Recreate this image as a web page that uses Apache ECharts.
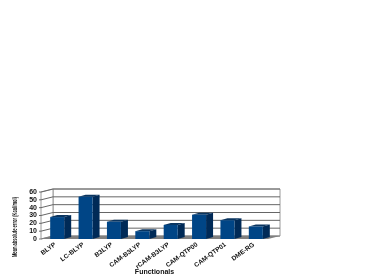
<!DOCTYPE html>
<html><head><meta charset="utf-8">
<style>html,body{margin:0;padding:0;background:#fff}#c{width:388px;height:277px}</style>
<script src="https://cdn.jsdelivr.net/npm/echarts@6/dist/echarts.min.js"></script>
</head><body><div id="c"></div>
<script>
const categories = ['BLYP','LC-BLYP','B3LYP','CAM-B3LYP','rCAM-B3LYP','CAM-QTP00','CAM-QTP01','DME-RG'];
const errors = [28,54,22,10,18,31,24,16];
const ticks = [0,10,20,30,40,50,60];
const yTitle = 'Mean absolute error (Kcal/mol)';
const DX = 12, DY = -3, BW = 14, SHIFT = 2;
const chart = echarts.init(document.getElementById('c'), null, {renderer:'canvas'});
const poly = (pts, fill, stroke) => ({type:'polygon', shape:{points:pts}, style:{fill, stroke:stroke||null, lineWidth:stroke?1:0}});
chart.setOption({
  animation:false,
  grid:{left:41,top:192,width:227,height:47,containLabel:false,outerBoundsMode:'none'},
  graphic:[{type:'text',x:15,y:227,rotation:Math.PI/2,scaleX:0.63,
    style:{text:yTitle,align:'center',verticalAlign:'middle',fontFamily:'Liberation Sans',fontWeight:'bold',fontSize:6.5,fill:'#111'}}],
  xAxis:{type:'category',data:categories,
    axisLine:{show:false},axisTick:{show:false},
    axisLabel:{interval:0,rotate:36,fontFamily:'Liberation Sans',fontWeight:'bold',fontSize:6.5,color:'#111',margin:5},
    name:'Functionals',nameLocation:'middle',nameGap:30,nameMoveOverlap:false,
    nameTextStyle:{fontFamily:'Liberation Sans',fontWeight:'bold',fontSize:7,color:'#111'}},
  yAxis:{type:'value',min:0,max:60,interval:10,
    axisLine:{show:false},axisTick:{show:false},splitLine:{show:false},
    axisLabel:{fontFamily:'Liberation Sans',fontWeight:'bold',fontSize:7,color:'#111',margin:4}},
  series:[
    {type:'custom',silent:true,z:1,clip:false,data:[0],
     renderItem(params,api){
       const w=api.size([1,0])[0]*categories.length;
       const l=api.coord([0,0])[0]-(api.size([1,0])[0]/2);
       const r=l+w;
       const y0=api.coord([0,0])[1], yT=api.coord([0,60])[1];
       const kids=[
         poly([[l+DX,yT+DY],[r+DX,yT+DY],[r+DX,y0+DY],[l+DX,y0+DY]],'#fff','#9a9a9a'),
         poly([[l,yT],[l+DX,yT+DY],[l+DX,y0+DY],[l,y0]],'#fff','#9a9a9a'),
         poly([[l,y0],[l+DX,y0+DY],[r+DX,y0+DY],[r,y0]],'#808080')
       ];
       ticks.forEach(t=>{
         const y=api.coord([0,t])[1];
         kids.push({type:'polyline',shape:{points:[[l-2,y],[l,y],[l+DX,y+DY],[r+DX,y+DY]]},
           style:{fill:null,stroke:t===0?'#808080':'#666',lineWidth:1}});
       });
       return {type:'group',children:kids};
     }},
    {type:'custom',z:2,clip:false,data:errors.map((v,i)=>[i,v]),
     encode:{x:0,y:1},
     renderItem(params,api){
       const c=api.coord([api.value(0),api.value(1)]);
       const b=api.coord([api.value(0),0]);
       const x=c[0]+SHIFT-BW/2, y=c[1], x2=x+BW, y0=b[1];
       return {type:'group',children:[
         poly([[x,y],[x2,y],[x2+7,y-2],[x+7,y-2]],'#0a3560'),
         poly([[x2,y],[x2+7,y-2],[x2+7,y0-2],[x2,y0]],'#002a57'),
         poly([[x,y],[x2,y],[x2,y0],[x,y0]],'#004586')
       ]};
     }}
  ]
});
</script></body></html>
